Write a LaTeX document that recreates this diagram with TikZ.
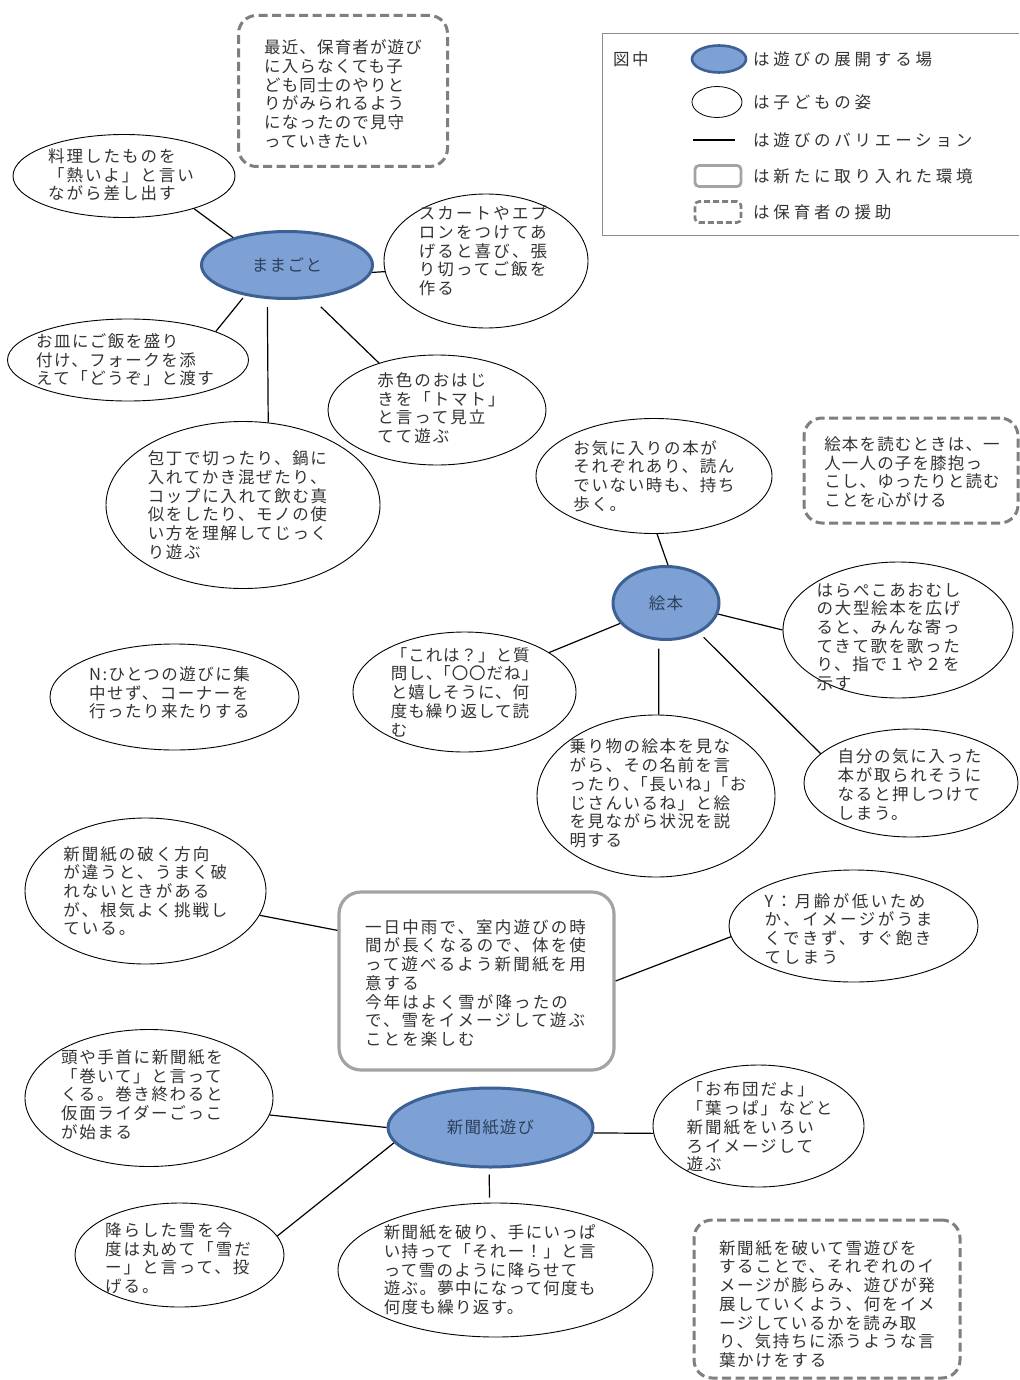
\documentclass[tikz,border=0pt]{standalone}
\usepackage{fontspec}
\setmainfont{Noto Sans CJK JP}
\usetikzlibrary{shapes.geometric}
\definecolor{txt}{HTML}{333333}
\definecolor{hubtxt}{HTML}{2E3F5C}
\definecolor{bfill}{HTML}{7DA1D4}
\definecolor{bdraw}{HTML}{3D6194}
\definecolor{dgray}{HTML}{7F7F7F}
\definecolor{egray}{HTML}{A3A3A3}
\definecolor{fgray}{HTML}{8C8C8C}
\newcommand\fs{\fontsize{16.5pt}{18.7pt}\selectfont}
\begin{document}
\begin{tikzpicture}[x=1pt,y=-1pt,
  ell/.style={ellipse, draw=black, line width=0.9pt, fill=white, inner sep=0pt},
  hub/.style={ellipse, draw=bdraw, line width=3pt, fill=bfill, inner sep=0pt, text=hubtxt},
  helpbox/.style={rectangle, rounded corners=18pt, draw=dgray, line width=3pt, dash pattern=on 9pt off 4.5pt, fill=white, inner sep=0pt},
  envbox/.style={rectangle, rounded corners=22pt, draw=egray, line width=3.2pt, fill=white, inner sep=0pt},
  lb/.style={inner sep=0pt, align=left, text=txt, font=\fs},
  lsp/.style={font=\fs\addfontfeature{LetterSpace=#1}},
  link/.style={line width=1.2pt, black},
]
\fill[white] (0,0) rectangle (1019,1380);
\useasboundingbox (0,0) rectangle (1019,1380);

% ---------- legend ----------
\draw[line width=0.8pt, draw=fgray] (1019,33) -- (602,33) -- (602,235) -- (1019,235);
\node[lb, lsp=15, anchor=west] (lgzu) at (613,59) {図中};
\node[hub, minimum width=54pt, minimum height=27pt, line width=2.6pt] (lgHub) at (719,59) {};
\node[lb, lsp=23, anchor=west] (lg1) at (753,59) {は遊びの展開する場};
\node[ell, minimum width=50pt, minimum height=31pt, line width=0.8pt] (lgEll) at (717,102) {};
\node[lb, lsp=23, anchor=west] (lg2) at (753,102) {は子どもの姿};
\coordinate (lgA) at (693,140);
\coordinate (lgB) at (735,140);
\draw[link] (lgA) -- (lgB);
\node[lb, lsp=23, anchor=west] (lg3) at (753,140) {は遊びのバリエーション};
\node[envbox, minimum width=46pt, minimum height=21pt, rounded corners=4pt, line width=2.8pt] (lgEnv) at (718,176) {};
\node[lb, lsp=23, anchor=west] (lg4) at (753,176) {は新たに取り入れた環境};
\node[helpbox, minimum width=46pt, minimum height=21pt, rounded corners=4pt, line width=2.6pt, dash pattern=on 6pt off 3pt] (lgHelp) at (718,212) {};
\node[lb, lsp=23, anchor=west] (lg5) at (753,212) {は保育者の援助};

% ---------- ままごと ----------
\node[helpbox, minimum width=209pt, minimum height=151pt,
  label={[lb,lsp=7,yshift=-3pt]center:{最近、保育者が遊び\\に入らなくても子\\ども同士のやりと\\りがみられるよう\\になったので見守\\っていきたい}}] (help1) at (343,91) {};
\node[hub, minimum width=171pt, minimum height=67pt, lsp=9] (mama) at (287,265) {ままごと};
\node[ell, minimum width=222pt, minimum height=83pt,
  label={[lb,lsp=12,xshift=-3pt,yshift=1pt]center:{料理したものを\\「熱いよ」と言い\\ながら差し出す}}] (ryouri) at (124,176) {};
\node[ell, minimum width=204pt, minimum height=134pt,
  label={[lb,lsp=13,xshift=-3pt,yshift=10pt]center:{スカートやエプ\\ロンをつけてあ\\げると喜び、張\\り切ってご飯を\\作る}}] (skirt) at (486,261) {};
\node[ell, minimum width=241pt, minimum height=82pt,
  label={[lb,lsp=9,xshift=-3pt]center:{お皿にご飯を盛り\\付け、フォークを添\\えて「どうぞ」と渡す}}] (osara) at (128,360) {};
\node[ell, minimum width=218pt, minimum height=110pt,
  label={[lb,lsp=12,xshift=4pt,yshift=2pt]center:{赤色のおはじ\\きを「トマト」\\と言って見立\\てて遊ぶ}}] (aka) at (437,410) {};
\node[ell, minimum width=274pt, minimum height=167pt,
  label={[lb,lsp=10,xshift=-5.5pt]center:{包丁で切ったり、鍋に\\入れてかき混ぜたり、\\コップに入れて飲む真\\似をしたり、モノの使\\い方を理解してじっく\\り遊ぶ}}] (houchou) at (243,505) {};

\draw[link] (ryouri.-25) -- (mama.153);
\draw[link] (mama.-5) -- (skirt.186);
\draw[link, shorten <=3pt] (mama.216) -- (osara.18);
\draw[link, shorten <=8pt] (mama.240) -- (houchou.73);
\draw[link, shorten <=12pt] (mama.-53) -- (aka.141);

% ---------- N ----------
\node[ell, minimum width=249pt, minimum height=106pt,
  label={[lb,lsp=9,xshift=-5pt,yshift=4pt]center:{N:ひとつの遊びに集\\中せず、コーナーを\\行ったり来たりする}}] (nn) at (174.5,697) {};

% ---------- 絵本 ----------
\node[ell, minimum width=236pt, minimum height=115pt,
  label={[lb,lsp=10]center:{お気に入りの本が\\それぞれあり、読ん\\でいない時も、持ち\\歩く。}}] (okini) at (654,476) {};
\node[helpbox, minimum width=214pt, minimum height=105pt,
  label={[lb,lsp=7,xshift=1pt,yshift=-1.5pt]center:{絵本を読むときは、一\\人一人の子を膝抱っ\\こし、ゆったりと読む\\ことを心がける}}] (help2) at (911,470.5) {};
\node[hub, minimum width=106pt, minimum height=73pt, lsp=9] (ehon) at (666,603) {絵本};
\node[ell, minimum width=230pt, minimum height=136pt,
  label={[lb,lsp=10,xshift=-9.5pt,yshift=-7pt]center:{はらぺこあおむし\\の大型絵本を広げ\\ると、みんな寄っ\\てきて歌を歌った\\り、指で１や２を\\示す}}] (harapeko) at (898,630) {};
\node[ell, minimum width=223pt, minimum height=120pt,
  label={[lb,lsp=6]center:{「これは？」と質\\問し、\kern-8pt「〇〇だね」\\と嬉しそうに、何\\度も繰り返して読\\む}}] (koreha) at (464.5,692) {};
\node[ell, minimum width=238pt, minimum height=162pt,
  label={[lb,lsp=9,xshift=2pt,yshift=2.5pt]center:{乗り物の絵本を見な\\がら、その名前を言\\ったり、\kern-8pt「長いね」\kern-8pt「お\\じさんいるね」と絵\\を見ながら状況を説\\明する}}] (norimono) at (656,796) {};
\node[ell, minimum width=214pt, minimum height=108pt,
  label={[lb,lsp=10,xshift=-1.5pt,yshift=-1.5pt]center:{自分の気に入った\\本が取られそうに\\なると押しつけて\\しまう。}}] (jibun) at (911,783) {};

\draw[link] (okini.-87) -- (ehon.87);
\draw[link] (ehon.-12) -- (harapeko.180);
\draw[link] (ehon.204) -- (koreha.25);
\draw[link, shorten <=8pt] (ehon.259) -- (norimono.88);
\draw[link, shorten <=6pt] (ehon.-42) -- (jibun.162);

% ---------- 新聞紙遊び ----------
\node[ell, minimum width=241pt, minimum height=146pt,
  label={[lb,lsp=12]center:{新聞紙の破く方向\\が違うと、うまく破\\れないときがある\\が、根気よく挑戦し\\ている。}}] (yaburu) at (145.5,891) {};
\node[envbox, minimum width=275pt, minimum height=178pt,
  label={[lb,lsp=13,xshift=-1pt,yshift=-2pt]center:{一日中雨で、室内遊びの時\\間が長くなるので、体を使\\って遊べるよう新聞紙を用\\意する\\今年はよく雪が降ったの\\で、雪をイメージして遊ぶ\\ことを楽しむ}}] (env) at (476.5,981) {};
\node[ell, minimum width=249pt, minimum height=112pt,
  label={[lb,lsp=15,xshift=-5pt,yshift=-2.5pt]center:{Y：月齢が低いため\\か、イメージがうま\\くできず、すぐ飽き\\てしまう}}] (yy) at (853.5,926) {};
\node[ell, minimum width=248pt, minimum height=137pt,
  label={[lb,lsp=10,xshift=-7pt,yshift=3.5pt]center:{頭や手首に新聞紙を\\「巻いて」と言って\\くる。巻き終わると\\仮面ライダーごっこ\\が始まる}}] (atama) at (149,1098) {};
\node[hub, minimum width=205pt, minimum height=79pt, lsp=7] (shinbun) at (490.5,1127.5) {新聞紙遊び};
\node[ell, minimum width=211pt, minimum height=122pt,
  label={[lb,lsp=12,xshift=1pt,yshift=-1pt]center:{「お布団だよ」\\「葉っぱ」などと\\新聞紙をいろい\\ろイメージして\\遊ぶ}}] (ofuton) at (758.5,1126) {};
\node[ell, minimum width=209pt, minimum height=104pt,
  label={[lb,lsp=12,xshift=-1.5pt,yshift=-3pt]center:{降らした雪を今\\度は丸めて「雪だ\\ー」と言って、投\\げる。}}] (furashita) at (179.5,1255) {};
\node[ell, minimum width=315pt, minimum height=134pt,
  label={[lb,lsp=8,xshift=-5.7pt]center:{新聞紙を破り、手にいっぱ\\い持って「それー！」と言\\って雪のように降らせて\\遊ぶ。夢中になって何度も\\何度も繰り返す。}}] (yaburi) at (495.5,1270) {};
\node[helpbox, minimum width=266pt, minimum height=158pt,
  label={[lb,lsp=10,yshift=-5pt]center:{新聞紙を破いて雪遊びを\\することで、それぞれのイ\\メージが膨らみ、遊びが発\\展していくよう、何をイメ\\ージしているかを読み取\\り、気持ちに添うような言\\葉かけをする}}] (help3) at (827,1299) {};

\draw[link] (yaburu.-12.5) -- (env.160.5);
\draw[link] (env.east) -- (yy.185);
\draw[link] (atama.-8.7) -- (shinbun.180);
\draw[link] (shinbun.-3) -- (ofuton.184);
\draw[link] (shinbun.189) -- (furashita.11.4);
\draw[link, shorten <=6pt, shorten >=5pt] (shinbun.268) -- (yaburi.95.5);
\end{tikzpicture}
\end{document}
